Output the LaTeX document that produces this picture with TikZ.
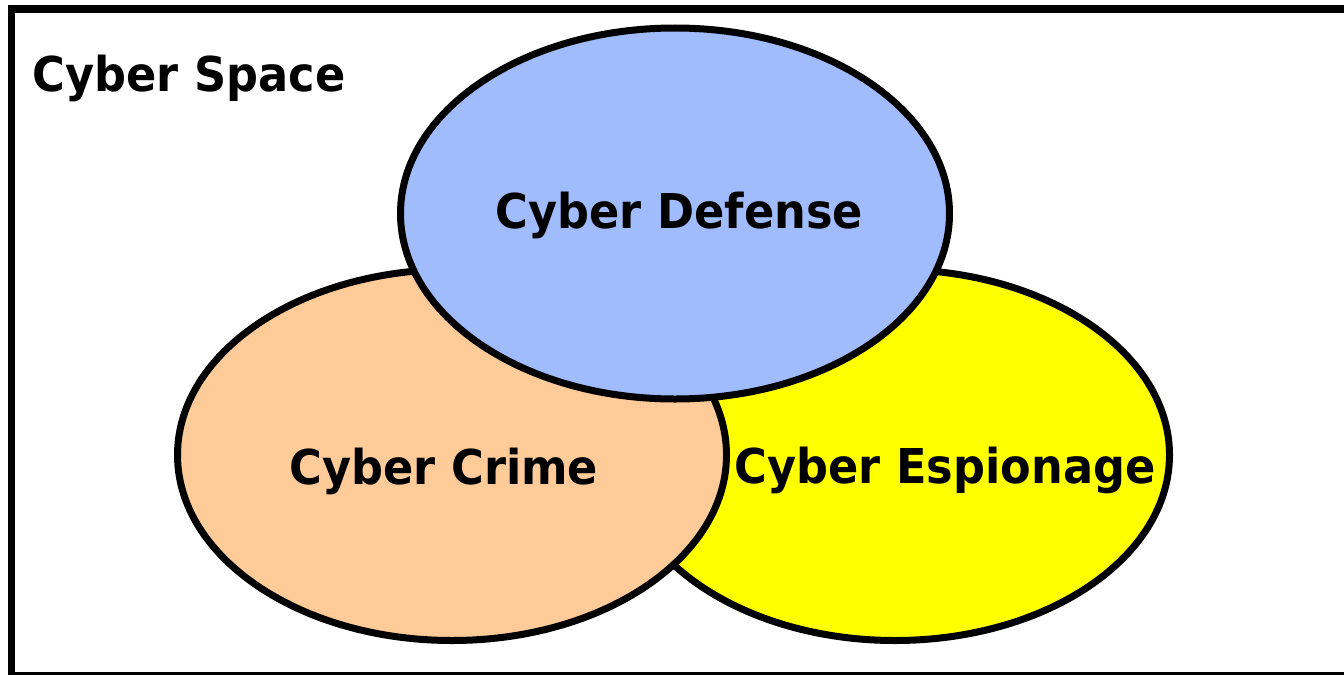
\documentclass[tikz,border=0pt]{standalone}
\usepackage{fontspec}
\usetikzlibrary{shapes.geometric}
\newfontfamily\venfont{DejaVu Sans}[FakeStretch=0.93]
\definecolor{defblue}{RGB}{160,188,252}
\definecolor{crimeorange}{RGB}{255,204,153}
\definecolor{spyyellow}{RGB}{255,255,0}
\begin{document}
\begin{tikzpicture}[x=0.75pt,y=-0.75pt,
  setellipse/.style={ellipse, draw=black, line width=5.25pt, inner sep=0pt,
    minimum width=411.75pt, minimum height=278.25pt},
  setlabel/.style={anchor=base, inner sep=0pt,
    font=\venfont\bfseries\fontsize{36pt}{40pt}\selectfont}]
  \useasboundingbox (0,0) rectangle (1344,674);
  \clip (0,0) rectangle (1344,674);
  \fill[white] (0,0) rectangle (1344,674);
  % outer frame of the space, running off the right and bottom edges
  \draw[line width=5.6pt] (11.5,9) rectangle (1370,676);
  % the three overlapping regions, bottom to top
  \node[setellipse, fill=spyyellow]   (espionage) at (895,455) {};
  \node[setellipse, fill=crimeorange] (crime)     at (452,455) {};
  \node[setellipse, fill=defblue]     (defense)   at (675,213.5) {};
  % labels
  \node[setlabel] (spacelbl)   at (189,91)  {Cyber Space};
  \node[setlabel] (defenselbl) at (679.5,228) {Cyber Defense};
  \node[setlabel] (crimelbl)   at (444,484) {Cyber Crime};
  \node[setlabel] (spylbl)     at (945,483) {Cyber Espionage};
\end{tikzpicture}
\end{document}
